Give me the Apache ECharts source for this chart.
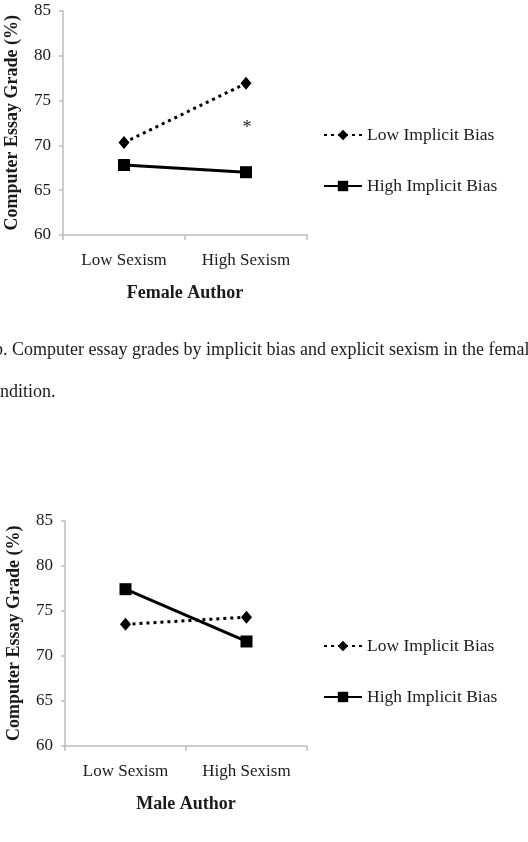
<!DOCTYPE html>
<html>
<head>
<meta charset="utf-8">
<script src="https://cdn.jsdelivr.net/npm/echarts@6/dist/echarts.min.js"></script>
<style>
  html, body { margin: 0; padding: 0; background: #fff; }
  #main { width: 528px; height: 842px; }
</style>
</head>
<body>
<div id="main"></div>
<script>
// data
var categories = ['Low Sexism', 'High Sexism'];
var seriesNames = ['Low Implicit Bias', 'High Implicit Bias'];
var femaleLow = [70.3, 76.9];
var femaleHigh = [67.8, 67.0];
var maleLow = [73.5, 74.3];
var maleHigh = [77.4, 71.6];
var starPoint = ['High Sexism', 72.3];
var yTicks = {min: 60, max: 85, interval: 5};

var serif = '"Liberation Serif", "DejaVu Serif", serif';
var ink = '#1a1a1a';
var axisGrey = '#bdbdbd';

function xAxisFor(gridIndex, title) {
  return {
    type: 'category',
    gridIndex: gridIndex,
    data: categories,
    boundaryGap: true,
    axisLine: {lineStyle: {color: axisGrey, width: 1.5}},
    axisTick: {show: true, length: 5, lineStyle: {color: axisGrey, width: 1.5}},
    axisLabel: {fontFamily: serif, fontSize: 17, color: ink, margin: 17},
    name: title,
    nameLocation: 'middle',
    nameGap: 49,
    nameTextStyle: {fontFamily: serif, fontSize: 18, fontWeight: 'bold', color: ink}
  };
}
function yAxisFor(gridIndex) {
  return {
    type: 'value',
    gridIndex: gridIndex,
    min: yTicks.min,
    max: yTicks.max,
    interval: yTicks.interval,
    splitLine: {show: false},
    axisLine: {show: true, lineStyle: {color: axisGrey, width: 1.5}},
    axisTick: {show: true, length: 4, lineStyle: {color: axisGrey, width: 1.5}},
    axisLabel: {fontFamily: serif, fontSize: 17, color: ink, margin: 12},
    name: 'Computer Essay Grade (%)',
    nameLocation: 'middle',
    nameRotate: 90,
    nameGap: 42,
    nameTextStyle: {fontFamily: serif, fontSize: 18, fontWeight: 'bold', color: ink}
  };
}
function lowSeries(idx, vals) {
  return {
    name: seriesNames[0], type: 'line', xAxisIndex: idx, yAxisIndex: idx,
    data: vals, symbol: 'diamond', symbolSize: [11, 13],
    itemStyle: {color: '#000'},
    lineStyle: {color: '#000', width: 3, type: [3, 4]},
    animation: false
  };
}
function highSeries(idx, vals) {
  return {
    name: seriesNames[1], type: 'line', xAxisIndex: idx, yAxisIndex: idx,
    data: vals, symbol: 'rect', symbolSize: 12,
    itemStyle: {color: '#000'},
    lineStyle: {color: '#000', width: 3},
    animation: false
  };
}
function legendAt(top) {
  return {
    orient: 'vertical', left: 323, top: top, padding: 0,
    data: seriesNames,
    itemWidth: 38, itemHeight: 13, itemGap: 33,
    selectedMode: false,
    textStyle: {fontFamily: serif, fontSize: 17.5, color: ink, lineHeight: 16}
  };
}

var femaleLowS = lowSeries(0, femaleLow);
femaleLowS.markPoint = {
  symbol: 'circle', symbolSize: 1, itemStyle: {color: 'transparent'},
  label: {show: true, formatter: '*', fontFamily: serif, fontSize: 18, color: ink,
          offset: [1, 4]},
  data: [{coord: starPoint}]
};

var option = {
  backgroundColor: '#fff',
  animation: false,
  grid: [
    {left: 63, top: 10.7, width: 244, height: 224.3},
    {left: 65, top: 520.7, width: 242, height: 225.3}
  ],
  xAxis: [xAxisFor(0, 'Female Author'), xAxisFor(1, 'Male Author')],
  yAxis: [yAxisFor(0), yAxisFor(1)],
  legend: [legendAt(126), legendAt(637)],
  series: [
    femaleLowS,
    highSeries(0, femaleHigh),
    lowSeries(1, maleLow),
    highSeries(1, maleHigh)
  ],
  graphic: [
    {type: 'text', left: -6, top: 341,
     style: {text: 'b. Computer essay grades by implicit bias and explicit sexism in the female author',
             font: '18px ' + serif, fill: ink}},
    {type: 'text', left: -17, top: 383,
     style: {text: 'condition.', font: '18px ' + serif, fill: ink}}
  ]
};

var myChart = echarts.init(document.getElementById('main'));
myChart.setOption(option);
</script>
</body>
</html>
